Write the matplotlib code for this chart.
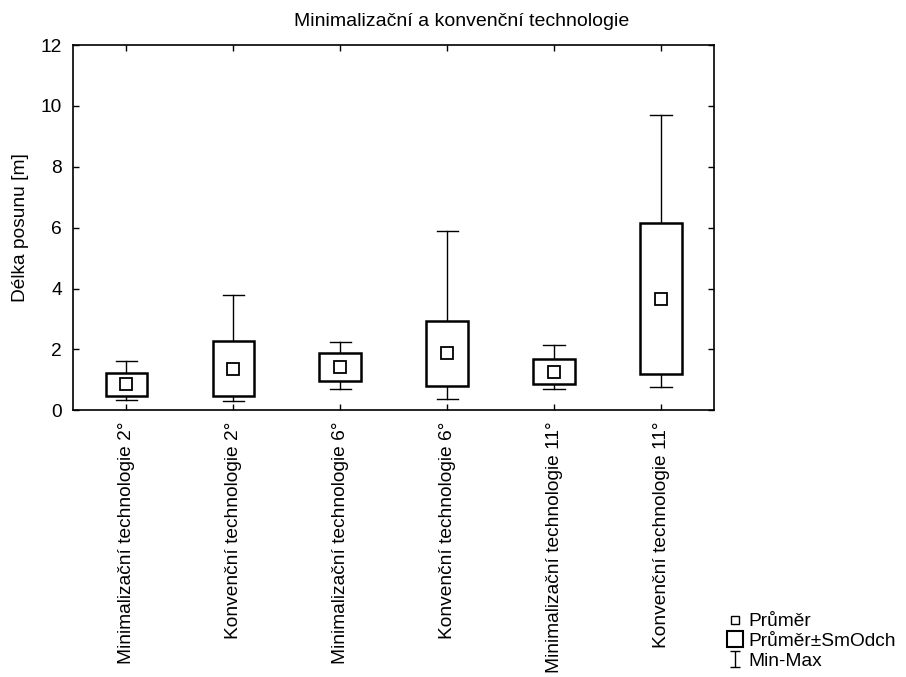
import matplotlib
matplotlib.use("Agg")
import matplotlib.pyplot as plt
from matplotlib.lines import Line2D
from matplotlib.patches import Rectangle
from matplotlib.path import Path
import numpy as np

plt.rcParams['font.family'] = ['Liberation Sans', 'DejaVu Sans']

categories = ["Minimalizační technologie 2°", "Konvenční technologie 2°",
              "Minimalizační technologie 6°", "Konvenční technologie 6°",
              "Minimalizační technologie 11°", "Konvenční technologie 11°"]
means = [0.85, 1.37, 1.42, 1.87, 1.26, 3.67]
sds = [0.39, 0.91, 0.46, 1.07, 0.41, 2.48]
mins = [0.35, 0.31, 0.69, 0.36, 0.70, 0.76]
maxs = [1.62, 3.80, 2.24, 5.88, 2.15, 9.69]

FS = 13.8
fig = plt.figure(figsize=(9.06, 6.77), dpi=100)
ax = fig.add_axes([0.0806, 0.394, 0.708, 0.5395])

box_w = 0.39
cap_w = 0.2
for i, (m, s, lo, hi) in enumerate(zip(means, sds, mins, maxs)):
    ax.plot([i, i], [m + s, hi], color='black', lw=1.0, zorder=2)
    ax.plot([i, i], [lo, m - s], color='black', lw=1.0, zorder=2)
    ax.plot([i - cap_w / 2, i + cap_w / 2], [hi, hi], color='black', lw=1.0, zorder=2)
    ax.plot([i - cap_w / 2, i + cap_w / 2], [lo, lo], color='black', lw=1.0, zorder=2)
    ax.add_patch(Rectangle((i - box_w / 2, m - s), box_w, 2 * s, facecolor='white',
                           edgecolor='black', lw=1.8, zorder=3))
    ax.plot([i], [m], marker='s', markersize=8, markerfacecolor='white',
            markeredgecolor='black', markeredgewidth=1.3, zorder=4)

ax.set_xlim(-0.5, 5.5)
ax.set_ylim(0, 12)
ax.set_yticks(np.arange(0, 13, 2))
ax.set_xticks(range(len(categories)))
ax.set_xticklabels(categories, rotation=90, fontsize=FS)
ax.tick_params(axis='both', direction='in', length=4, width=1, labelsize=FS,
               top=True, right=True)
ax.tick_params(axis='y', pad=8)
ax.tick_params(axis='x', pad=8)
for sp in ax.spines.values():
    sp.set_linewidth(1.2)
ax.set_ylabel("Délka posunu [m]", fontsize=FS, labelpad=8)
fig.text(462 / 906, 1 - 22 / 677, "Minimalizační a konvenční technologie",
         fontsize=14, ha='center', va='center')

imark = Path([(-0.7, 1.0), (0.7, 1.0), (0, 1.0), (0, -1.0), (-0.7, -1.0), (0.7, -1.0)],
             [Path.MOVETO, Path.LINETO, Path.MOVETO, Path.LINETO, Path.MOVETO, Path.LINETO])
handles = [
    Line2D([], [], ls='none', marker='s', markersize=6, markerfacecolor='white',
           markeredgecolor='black', markeredgewidth=1.0),
    Line2D([], [], ls='none', marker='s', markersize=12, markerfacecolor='white',
           markeredgecolor='black', markeredgewidth=1.5),
    Line2D([], [], ls='none', marker=imark, markersize=11, color='black', markeredgewidth=1.0),
]
fig.legend(handles, ["Průměr", "Průměr±SmOdch", "Min-Max"], loc='lower left',
           bbox_to_anchor=(0.786, -0.009), frameon=False, fontsize=FS,
           handlelength=1.0, handletextpad=0.2, labelspacing=0.12, borderpad=0.2)

fig.savefig("out.png", dpi=100)
